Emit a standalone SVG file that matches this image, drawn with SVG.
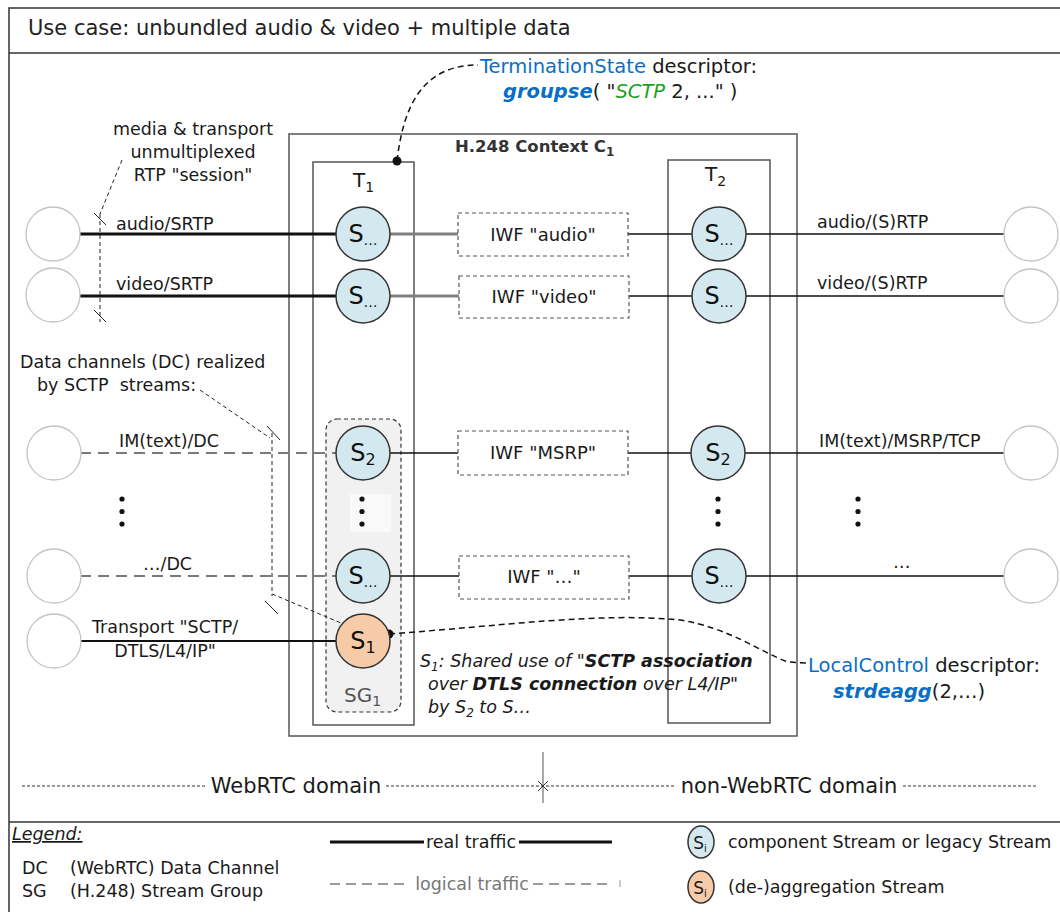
<svg xmlns="http://www.w3.org/2000/svg" width="1060" height="912" viewBox="0 0 1060 912">
<style>
text{font-family:"DejaVu Sans","Liberation Sans",sans-serif;fill:#1a1a1a}
.t{font-size:17.5px}
.title{font-size:21px;fill:#222}
.big{font-size:19.5px}
.s{font-size:24px;fill:#111}
.sub{font-size:14px}
.sub2{font-size:16px}
.frame{fill:none;stroke:#333;stroke-width:1.5}
.box{fill:none;stroke:#555;stroke-width:1.5}
.iwf{fill:#fff;stroke:#555;stroke-width:1.2;stroke-dasharray:4 3}
.ep{fill:#fff;stroke:#c4c4c4;stroke-width:1.3}
.cs{fill:#d4e9ef;stroke:#333;stroke-width:1.5}
.agg{fill:#f8cba8;stroke:#333;stroke-width:1.5}
.thick{stroke:#111;stroke-width:3;fill:none}
.gthick{stroke:#808080;stroke-width:3;fill:none}
.thin{stroke:#111;stroke-width:1.5;fill:none}
.mid{stroke:#111;stroke-width:2;fill:none}
.logical{stroke:#7a7a7a;stroke-width:2;stroke-dasharray:11 7;fill:none}
.lead{stroke:#222;stroke-width:1;stroke-dasharray:4 3;fill:none}
.anno{stroke:#111;stroke-width:1.5;stroke-dasharray:6 4;fill:none}
.dom{stroke:#333;stroke-width:1;stroke-dasharray:3 2;fill:none}
.blue{fill:#0a6fc2}
.green{fill:#1aa01a}
</style>
<defs>
<g id="vdots"><circle cx="0" cy="0" r="2.6" fill="#111"/><circle cx="0" cy="12.5" r="2.6" fill="#111"/><circle cx="0" cy="25" r="2.6" fill="#111"/></g>
</defs>
<rect width="1060" height="912" fill="#fff"/>
<!-- frame -->
<g id="frame">
<rect x="9" y="8" width="1060" height="920" class="frame"/>
<line x1="9" y1="53" x2="1060" y2="53" class="frame"/>
<line x1="9" y1="822" x2="1060" y2="822" class="frame"/>
<text x="28" y="35" class="title">Use case: unbundled audio &amp; video + multiple data</text>
</g>
<!-- containers -->
<g id="context">
<rect x="289" y="134" width="508" height="602" class="box"/>
<text x="455" y="152" style="font-size:16.5px;font-weight:bold;fill:#333">H.248 Context C<tspan dy="4" style="font-size:12px">1</tspan></text>
</g>
<g id="T1">
<rect x="313" y="162" width="101" height="563" class="box"/>
<text x="353" y="187" style="font-size:20px">T<tspan dy="5" style="font-size:14px">1</tspan></text>
</g>
<g id="T2">
<rect x="668" y="160" width="102" height="563" class="box"/>
<text x="705" y="181" style="font-size:20px">T<tspan dy="5" style="font-size:14px">2</tspan></text>
</g>
<g id="SG1">
<rect x="326" y="419" width="75" height="293" rx="11" fill="#f1f1f1" stroke="#333" stroke-width="1.2" stroke-dasharray="4 3"/>
<rect x="350" y="494" width="41" height="38" fill="#f9f9f9"/>
<use href="#vdots" x="362" y="499"/>
<text x="344" y="702" style="font-size:20px;fill:#555">SG<tspan dy="4" style="font-size:14px">1</tspan></text>
</g>
<!-- connectors -->
<g id="connectors">
<path d="M80,234 H336" class="thick"/>
<path d="M390,234 H458" class="gthick"/>
<path d="M628,234 H692" class="thin"/>
<path d="M746,234 H1004" class="thin"/>
<path d="M80,296 H336" class="thick"/>
<path d="M390,296 H459" class="gthick"/>
<path d="M629,296 H692" class="thin"/>
<path d="M746,296 H1004" class="thin"/>
<path d="M80,453 H336" class="logical"/>
<path d="M390,453 H458" class="thin"/>
<path d="M628,453 H691" class="thin"/>
<path d="M745,453 H1004" class="thin"/>
<path d="M80,576 H336" class="logical"/>
<path d="M390,576 H459" class="thin"/>
<path d="M629,576 H692" class="thin"/>
<path d="M746,576 H1004" class="thin"/>
<path d="M80,641 H336" class="mid"/>
<!-- annotation leaders -->
<path d="M397,161 C403,110 420,65 478,65" class="anno"/>
<circle cx="397" cy="161" r="4.5" fill="#111"/>
<path d="M389,634 C500,626 600,612 680,620 C730,628 760,652 788,662 L806,663" class="anno"/>
<circle cx="389" cy="634" r="4.5" fill="#111"/>
<path d="M122,160 L100,214" class="lead"/>
<path d="M100,214 V322" class="lead"/>
<path d="M94,213 L106,225 M94,310 L106,322" stroke="#222" stroke-width="1"/>
<path d="M200,390 L270,438" class="lead"/>
<path d="M272,433 V596" class="lead"/>
<path d="M267,426 L280,440 M265,601 L278,614" stroke="#222" stroke-width="1"/>
<path d="M272,594 L341,623" class="lead"/>
</g>
<!-- endpoints -->
<g id="endpoints-left">
<circle cx="53" cy="234" r="27" class="ep"/>
<circle cx="53" cy="295" r="27" class="ep"/>
<circle cx="54" cy="453" r="27" class="ep"/>
<circle cx="54" cy="576" r="27" class="ep"/>
<circle cx="54" cy="641" r="27" class="ep"/>
</g>
<g id="endpoints-right">
<circle cx="1031" cy="234" r="27" class="ep"/>
<circle cx="1031" cy="296" r="27" class="ep"/>
<circle cx="1031" cy="453" r="27" class="ep"/>
<circle cx="1031" cy="576" r="27" class="ep"/>
</g>
<!-- streams T1 -->
<g id="T1-S-audio"><circle cx="363" cy="234" r="27" class="cs"/><text x="363" y="242" text-anchor="middle" class="s">S<tspan dy="3" class="sub">…</tspan></text></g>
<g id="T1-S-video"><circle cx="363" cy="296" r="27" class="cs"/><text x="363" y="304" text-anchor="middle" class="s">S<tspan dy="3" class="sub">…</tspan></text></g>
<g id="T1-S2"><circle cx="363" cy="453" r="27" class="cs"/><text x="363" y="461" text-anchor="middle" class="s">S<tspan dy="4" class="sub2">2</tspan></text></g>
<g id="T1-Sdots"><circle cx="363" cy="576" r="27" class="cs"/><text x="363" y="584" text-anchor="middle" class="s">S<tspan dy="3" class="sub">…</tspan></text></g>
<g id="T1-S1"><circle cx="363" cy="641" r="27" class="agg"/><text x="363" y="649" text-anchor="middle" class="s">S<tspan dy="4" class="sub2">1</tspan></text></g>
<!-- streams T2 -->
<g id="T2-S-audio"><circle cx="719" cy="234" r="27" class="cs"/><text x="719" y="242" text-anchor="middle" class="s">S<tspan dy="3" class="sub">…</tspan></text></g>
<g id="T2-S-video"><circle cx="719" cy="296" r="27" class="cs"/><text x="719" y="304" text-anchor="middle" class="s">S<tspan dy="3" class="sub">…</tspan></text></g>
<g id="T2-S2"><circle cx="718" cy="453" r="27" class="cs"/><text x="718" y="461" text-anchor="middle" class="s">S<tspan dy="4" class="sub2">2</tspan></text></g>
<g id="T2-Sdots"><circle cx="719" cy="576" r="27" class="cs"/><text x="719" y="584" text-anchor="middle" class="s">S<tspan dy="3" class="sub">…</tspan></text></g>
<use href="#vdots" x="718" y="499"/>
<!-- IWF -->
<g id="IWF-audio"><rect x="458" y="213" width="170" height="43" class="iwf"/><text x="543" y="241" text-anchor="middle" class="t" style="font-size:18px">IWF "audio"</text></g>
<g id="IWF-video"><rect x="459" y="276" width="170" height="42" class="iwf"/><text x="544" y="303" text-anchor="middle" class="t" style="font-size:18px">IWF "video"</text></g>
<g id="IWF-MSRP"><rect x="458" y="431" width="170" height="44" class="iwf"/><text x="543" y="459" text-anchor="middle" class="t" style="font-size:18px">IWF "MSRP"</text></g>
<g id="IWF-dots"><rect x="459" y="556" width="170" height="43" class="iwf"/><text x="544" y="583" text-anchor="middle" class="t" style="font-size:18px">IWF "…"</text></g>
<!-- labels -->
<g id="labels">
<text x="116" y="230" class="t">audio/SRTP</text>
<text x="116" y="290" class="t">video/SRTP</text>
<text x="817" y="228" class="t">audio/(S)RTP</text>
<text x="817" y="289" class="t">video/(S)RTP</text>
<text x="119" y="447" class="t">IM(text)/DC</text>
<text x="143" y="570" class="t">…/DC</text>
<text x="819" y="447" class="t">IM(text)/MSRP/TCP</text>
<text x="893" y="568" class="t">…</text>
<text x="165" y="633" text-anchor="middle" class="t">Transport "SCTP/</text>
<text x="165" y="657" text-anchor="middle" class="t">DTLS/L4/IP"</text>
<text x="193" y="135" text-anchor="middle" class="t">media &amp; transport</text>
<text x="193" y="158" text-anchor="middle" class="t">unmultiplexed</text>
<text x="193" y="181" text-anchor="middle" class="t">RTP "session"</text>
<text x="20" y="368" class="t">Data channels (DC) realized</text>
<text x="37" y="391" class="t" style="white-space:pre" xml:space="preserve">by SCTP  streams:</text>
<use href="#vdots" x="122" y="499"/>
<use href="#vdots" x="858" y="499"/>
<text x="480" y="73" class="big"><tspan class="blue">TerminationState</tspan> descriptor:</text>
<text x="503" y="98" class="big"><tspan class="blue" style="font-weight:bold;font-style:italic">groupse</tspan>( "<tspan class="green" style="font-style:italic">SCTP</tspan> 2, ..." )</text>
<text x="808" y="672" class="big"><tspan class="blue">LocalControl</tspan> descriptor:</text>
<text x="833" y="698" class="big"><tspan class="blue" style="font-weight:bold;font-style:italic">strdeagg</tspan>(2,…)</text>
<text x="420" y="667" class="t" style="font-style:italic">S<tspan dy="4" style="font-size:12px">1</tspan><tspan dy="-4">: Shared use of "</tspan><tspan style="font-weight:bold">SCTP association</tspan></text>
<text x="428" y="690" class="t" style="font-style:italic">over <tspan style="font-weight:bold">DTLS connection</tspan> over L4/IP"</text>
<text x="428" y="713" class="t" style="font-style:italic">by S<tspan dy="4" style="font-size:12px">2</tspan><tspan dy="-4"> to S…</tspan></text>
</g>
<!-- domains -->
<g id="domains">
<path d="M22,786 H205 M386,786 H675 M903,786 H1036" class="dom"/>
<path d="M543,752 V803" stroke="#555" stroke-width="1"/>
<path d="M538,781 L548,791 M538,791 L548,781" stroke="#333" stroke-width="1"/>
<text x="296" y="793" text-anchor="middle" style="font-size:21px">WebRTC domain</text>
<text x="789" y="793" text-anchor="middle" style="font-size:21px">non-WebRTC domain</text>
</g>
<!-- legend -->
<g id="legend">
<text x="12" y="840" class="t" style="font-style:italic;text-decoration:underline">Legend:</text>
<text x="22" y="874" class="t">DC</text>
<text x="70" y="874" class="t">(WebRTC) Data Channel</text>
<text x="22" y="897" class="t">SG</text>
<text x="70" y="897" class="t">(H.248) Stream Group</text>
<path d="M330,842 H424 M519,842 H612" class="thick"/>
<text x="471" y="848" text-anchor="middle" class="t">real traffic</text>
<path d="M330,884 H410 M533,884 H612" class="logical" style="stroke-width:1.5;stroke-dasharray:10 6"/>
<path d="M620,880 V887" stroke="#999" stroke-width="1"/>
<text x="472" y="890" text-anchor="middle" class="t" style="fill:#777">logical traffic</text>
<ellipse cx="701" cy="842" rx="13" ry="16" class="cs"/>
<text x="700" y="849" text-anchor="middle" style="font-size:17px">S<tspan dy="3" style="font-size:10px">i</tspan></text>
<ellipse cx="701" cy="887" rx="13" ry="16" class="agg"/>
<text x="700" y="894" text-anchor="middle" style="font-size:17px">S<tspan dy="3" style="font-size:10px">i</tspan></text>
<text x="728" y="848" class="t">component Stream or legacy Stream</text>
<text x="728" y="893" class="t">(de-)aggregation Stream</text>
</g>
</svg>
